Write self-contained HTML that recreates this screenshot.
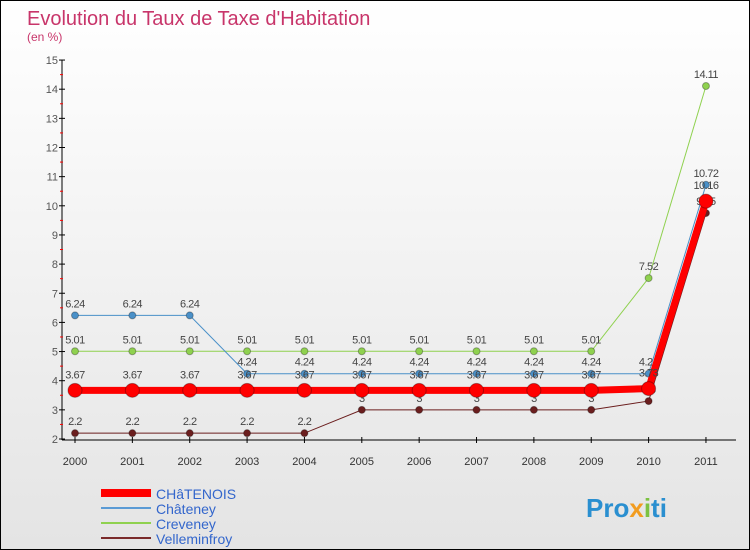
<!DOCTYPE html>
<html><head><meta charset="utf-8"><style>
body{margin:0}
#c{width:748px;height:548px;border:1px solid #000;background:linear-gradient(#fff,#e4e4e4);position:relative;font-family:"Liberation Sans",sans-serif}
</style></head><body>
<div id="c">
<svg id="s" width="748" height="548" style="position:absolute;left:0;top:0">
<text x="26" y="24" font-size="20" fill="#c8356a">Evolution du Taux de Taxe d'Habitation</text>
<text x="26" y="40" font-size="12" fill="#c8356a">(en %)</text>
<g id="axes"></g><g id="series"></g>
<g>
<rect x="100" y="488" width="50" height="8" fill="#f00"/>
<text x="155" y="498" font-size="14" fill="#36c">CHâTENOIS</text>
<rect x="100" y="506" width="50" height="2" fill="#5b9bd5"/>
<text x="155" y="513" font-size="14" fill="#36c">Châteney</text>
<rect x="100" y="521" width="50" height="2" fill="#8fd14f"/>
<text x="155" y="528" font-size="14" fill="#36c">Creveney</text>
<rect x="100" y="536" width="50" height="2" fill="#7a2a2a"/>
<text x="155" y="543" font-size="14" fill="#36c">Velleminfroy</text>
</g>
<text x="585" y="516" font-size="26" font-weight="bold" fill="#2a8fd0">Pro<tspan fill="#f29c1f">x</tspan><tspan fill="#7cc242">i</tspan>ti</text>
</svg>
</div>
<script>
const years=[2000,2001,2002,2003,2004,2005,2006,2007,2008,2009,2010,2011];
const chatenois=[3.67,3.67,3.67,3.67,3.67,3.67,3.67,3.67,3.67,3.67,3.73,10.16];
const chateney=[6.24,6.24,6.24,4.24,4.24,4.24,4.24,4.24,4.24,4.24,4.24,10.72];
const creveney=[5.01,5.01,5.01,5.01,5.01,5.01,5.01,5.01,5.01,5.01,7.52,14.11];
const velleminfroy=[2.2,2.2,2.2,2.2,2.2,3,3,3,3,3,3.3,9.75];
const yTicks=[2,3,4,5,6,7,8,9,10,11,12,13,14,15];
const NS="http://www.w3.org/2000/svg";
const X=i=>74+i*57.36, Y=v=>438-(v-2)*29.15;
function mk(p,t,a){const e=document.createElementNS(NS,t);for(const k in a)e.setAttribute(k,a[k]);p.appendChild(e);return e;}
const ax=document.getElementById('axes');
let l=mk(ax,'line',{x1:61,y1:59,x2:61,y2:439,stroke:'#000'});


l=mk(ax,'line',{x1:61,y1:439,x2:735,y2:439,stroke:'#000'});


yTicks.forEach(v=>{mk(ax,'line',{x1:58,y1:Y(v),x2:64,y2:Y(v),stroke:'#000'});
if(v<15)mk(ax,'line',{x1:59,y1:Y(v+0.5),x2:62,y2:Y(v+0.5),stroke:'#f00'});
const t=mk(ax,'text',{x:57,y:Y(v)+4,'font-size':11,'text-anchor':'end',fill:'#555'});t.textContent=v;

});
years.forEach((y,i)=>{mk(ax,'line',{x1:X(i),y1:436,x2:X(i),y2:442,stroke:'#000'});
const t=mk(ax,'text',{x:X(i),y:464,'font-size':11,'text-anchor':'middle',fill:'#333'});t.textContent=y;

});
const sg=document.getElementById('series');
function draw(name,data,col,w,r,labOff){const g=mk(sg,'g',{});


mk(g,'polyline',{points:data.map((v,i)=>X(i)+','+Y(v)).join(' '),fill:'none',stroke:col,'stroke-width':w});
data.forEach((v,i)=>{const c=mk(g,'circle',{cx:X(i),cy:Y(v),r:r,fill:col,stroke:'rgba(0,0,0,0.3)'});


const t=mk(g,'text',{x:X(i),y:Y(v)+labOff,'font-size':11,'text-anchor':'middle',fill:'#444','letter-spacing':'-0.5'});
t.textContent=String(Math.round(v*100)/100);

});}
draw('velleminfroy',velleminfroy,'#6b1e1e',1,3.5,-8);
draw('creveney',creveney,'#8fd14f',1,3.5,-8);
draw('chateney',chateney,'#4a90c8',1,3.5,-8);
draw('chatenois',chatenois,'#f00',7,7,-12);
</script>
</body></html>
